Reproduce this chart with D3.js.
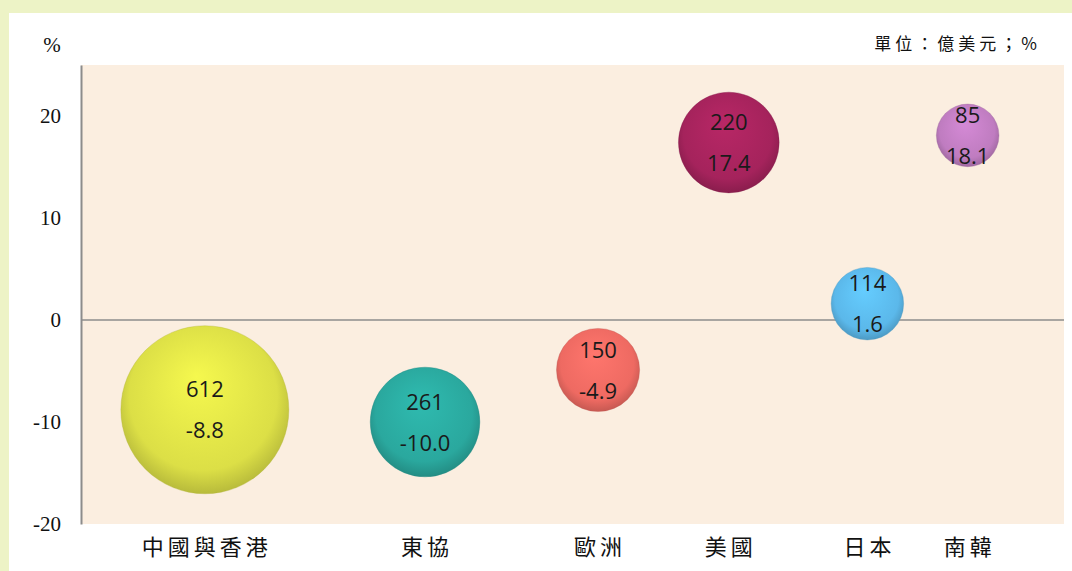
<!DOCTYPE html>
<html>
<head>
<meta charset="utf-8">
<script src="https://cdn.jsdelivr.net/npm/d3@7"></script>
<style>
	html, body { margin: 0; padding: 0; background: #edf3c6; }
	svg { display: block; }
</style>
</head>
<body>
<script>
// data
var regions = ['中國與香港', '東協', '歐洲', '美國', '日本', '南韓'];
var amounts = [612, 261, 150, 220, 114, 85];        // 億美元
var growth = [-8.8, -10.0, -4.9, 17.4, 1.6, 18.1];  // %
var xPos = [12.6, 35.0, 52.6, 65.9, 80.0, 90.2];     // horizontal placement (0-100)
var colors = ['#dcdf46', '#2aa89e', '#ee6a62', '#a5235c', '#5bb8ea', '#bf7cc0'];
var yTicks = [20, 10, 0, -10, -20];

var width = 1072, height = 571;
var plotLeft = 81, plotRight = 1064, plotTop = 65, plotBottom = 524;

var svg = d3.select('body').append('svg')
	.attr('width', width)
	.attr('height', height);

// white panel
svg.append('rect')
	.attr('x', 9).attr('y', 13)
	.attr('width', width - 9).attr('height', height - 13)
	.attr('fill', '#ffffff');

// plot background
svg.append('rect')
	.attr('x', plotLeft).attr('y', plotTop)
	.attr('width', plotRight - plotLeft).attr('height', plotBottom - plotTop)
	.attr('fill', '#fbeee0');

var x = d3.scaleLinear().domain([0, 100]).range([plotLeft, plotRight]);
var y = d3.scaleLinear().domain([-20, 25]).range([plotBottom, plotTop]);
var r = d3.scaleSqrt().domain([0, 612]).range([0, 84]);

// y axis (plain hyphen for negatives, like the original)
var yAxis = d3.axisLeft(y).tickValues(yTicks).tickSize(0).tickPadding(20)
	.tickFormat(function (d) { return String(d); });
var yAxisEl = svg.append('g')
	.attr('transform', 'translate(' + plotLeft + ',0)')
	.call(yAxis);
yAxisEl.select('.domain').attr('stroke', '#8c8c8c').attr('stroke-width', 2);
yAxisEl.selectAll('text')
	.attr('font-family', '"Liberation Serif", "Times New Roman", serif')
	.attr('font-size', 21)
	.attr('fill', '#111');

// zero line
svg.append('line')
	.attr('x1', plotLeft).attr('x2', plotRight)
	.attr('y1', y(0)).attr('y2', y(0))
	.attr('stroke', '#8c8c8c').attr('stroke-width', 1.5);

svg.append('text')
	.attr('x', 52).attr('y', 52)
	.attr('text-anchor', 'middle')
	.attr('font-family', '"Liberation Serif", serif')
	.attr('font-size', 21)
	.attr('fill', '#111')
	.text('%');

svg.append('text')
	.attr('x', 1041).attr('y', 50)
	.attr('text-anchor', 'end')
	.attr('font-family', '"Noto Sans CJK TC", sans-serif')
	.attr('font-size', 17)
	.attr('letter-spacing', 4)
	.attr('fill', '#111')
	.text('單位：億美元；%');

// gradients for the 3d look
var defs = svg.append('defs');
colors.forEach(function (c, i) {
	var g = defs.append('radialGradient')
		.attr('id', 'bub' + i)
		.attr('cx', '50%').attr('cy', '45%').attr('r', '55%')
		.attr('fx', '45%').attr('fy', '30%');
	g.append('stop').attr('offset', '0%').attr('stop-color', d3.color(c).brighter(0.3));
	g.append('stop').attr('offset', '80%').attr('stop-color', c);
	g.append('stop').attr('offset', '100%').attr('stop-color', d3.color(c).darker(0.5));
});

var data = regions.map(function (name, i) {
	return { name: name, amount: amounts[i], growth: growth[i], xv: xPos[i], i: i };
});

var bubbles = svg.selectAll('.bubble').data(data).enter().append('g')
	.attr('class', 'bubble')
	.attr('transform', function (d) { return 'translate(' + x(d.xv) + ',' + y(d.growth) + ')'; });

bubbles.append('circle')
	.attr('r', function (d) { return r(d.amount); })
	.attr('fill', function (d) { return 'url(#bub' + d.i + ')'; })
	.attr('stroke', function (d) { return d3.color(colors[d.i]).darker(0.6); })
	.attr('stroke-opacity', 0.35)
	.attr('stroke-width', 1);

bubbles.append('text')
	.attr('y', -20)
	.attr('dy', '0.35em')
	.attr('text-anchor', 'middle')
	.attr('font-family', '"Open Sans", "Noto Sans", sans-serif')
	.attr('font-size', 22)
	.attr('fill', '#1a1a1a')
	.text(function (d) { return d.amount; });

bubbles.append('text')
	.attr('y', 21)
	.attr('dy', '0.35em')
	.attr('text-anchor', 'middle')
	.attr('font-family', '"Open Sans", "Noto Sans", sans-serif')
	.attr('font-size', 22)
	.attr('fill', '#1a1a1a')
	.text(function (d) { return d.growth.toFixed(1); });

// category labels
svg.selectAll('.cat').data(data).enter().append('text')
	.attr('class', 'cat')
	.attr('x', function (d) { return x(d.xv) + 2; })
	.attr('y', 555)
	.attr('text-anchor', 'middle')
	.attr('font-family', '"Noto Sans CJK TC", sans-serif')
	.attr('font-size', 22)
	.attr('letter-spacing', 4)
	.attr('fill', '#111')
	.text(function (d) { return d.name; });
</script>
</body>
</html>
